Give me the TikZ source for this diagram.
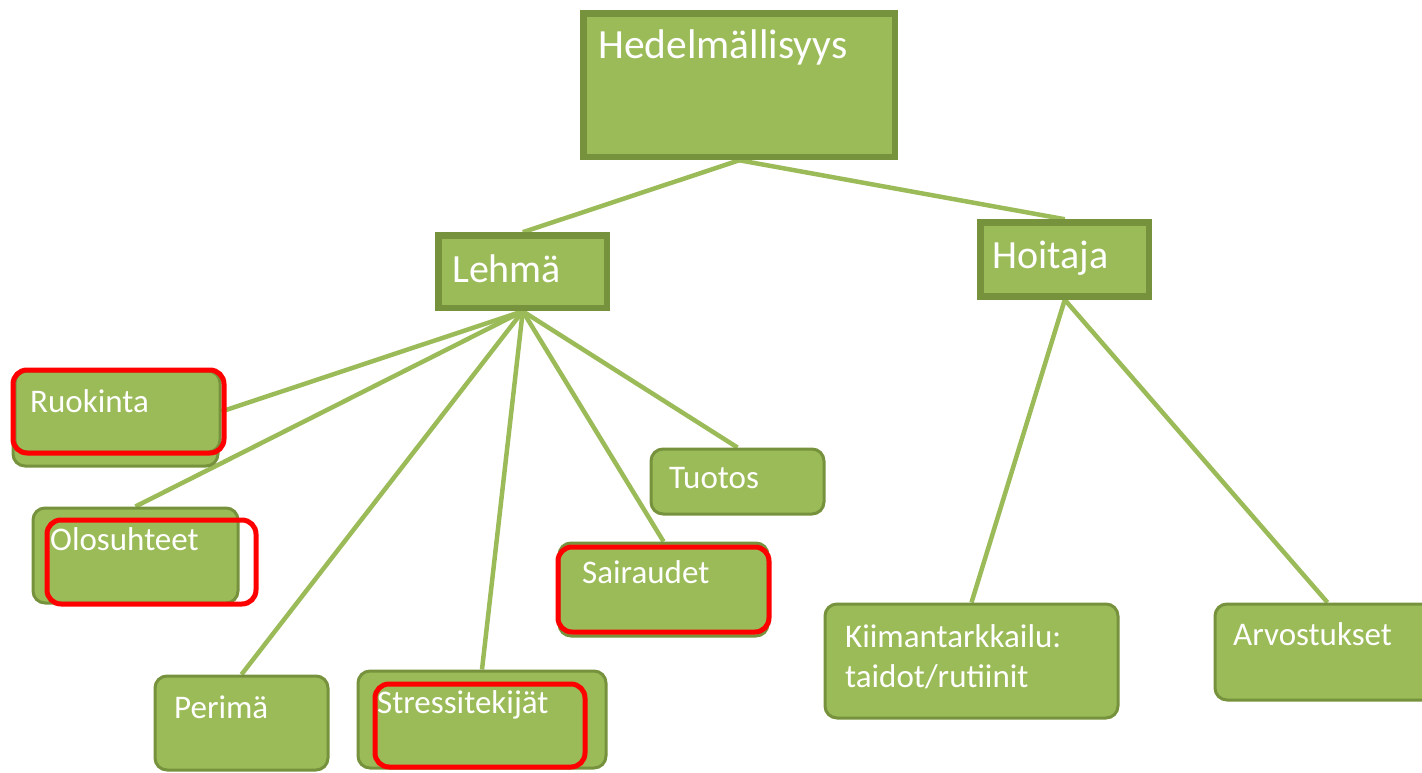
\documentclass[tikz,border=0pt]{standalone}
\usepackage{fontspec}
\setmainfont{Carlito}
\usetikzlibrary{backgrounds}
\definecolor{gfill}{HTML}{9BBB59}
\definecolor{gdark}{HTML}{76923C}
\definecolor{gline}{HTML}{9BBB59}
\tikzset{
 sqbox/.style={draw=gdark, fill=gfill, line width=6.5pt, anchor=north west, inner sep=0pt},
 rbox/.style={draw=gdark, fill=gfill, line width=3pt, rounded corners=12pt, anchor=north west, inner sep=0pt},
 redbox/.style={draw=red, line width=5pt, rounded corners=14pt, anchor=north west, inner sep=0pt},
 lbl/.style={text=white, anchor=base west, inner sep=0pt, align=left},
 bigf/.style={font=\fontsize{41.5}{49}\selectfont},
 midf/.style={font=\fontsize{40}{48}\selectfont},
 smallf/.style={font=\fontsize{33}{39.5}\selectfont},
 conn/.style={draw=gline, line width=4.5pt},
}
\begin{document}
\begin{tikzpicture}[x=1pt,y=-1pt]
\useasboundingbox (0,0) rectangle (1422,772);
% top level
\node[sqbox, minimum width=311.5pt, minimum height=143.5pt] (hed) at (580.25,10.25) {};
\node[lbl, bigf] (hedt) at (598,58) {Hedelmällisyys};
\node[sqbox, minimum width=168.5pt, minimum height=72.5pt] (leh) at (435.25,232.25) {};
\node[lbl, midf] (leht) at (452,282) {Lehmä};
\node[sqbox, minimum width=168.5pt, minimum height=74pt] (hoi) at (977.25,219.25) {};
\node[lbl, midf] (hoit) at (992,268) {Hoitaja};
% leaves
\node[rbox, minimum width=205pt, minimum height=85pt] (ruokb) at (11.5,379.5) {};
\node[rbox, minimum width=205pt, minimum height=81pt] (ruok) at (13.5,369.5) {};
\node[lbl, smallf] (ruokt) at (30,412) {Ruokinta};
\node[redbox, minimum width=211pt, minimum height=83pt] (ruokr) at (10.5,367.5) {};

\node[rbox, minimum width=205pt, minimum height=95pt] (olo) at (31.5,506.5) {};
\node[lbl, smallf] (olot) at (50,550) {Olosuhteet};
\node[redbox, minimum width=209pt, minimum height=84pt] (olor) at (44.5,517.5) {};

\node[rbox, minimum width=173pt, minimum height=94pt] (per) at (153.5,674.5) {};
\node[lbl, smallf] (pert) at (174,718) {Perimä};

\node[rbox, minimum width=248pt, minimum height=97pt] (str) at (356.5,669.5) {};
\node[lbl, smallf] (strt) at (377,713) {Stressitekijät};
\node[redbox, minimum width=210pt, minimum height=83pt] (strr) at (372.5,681.5) {};

\node[rbox, minimum width=209pt, minimum height=93pt] (sai) at (557.5,541.5) {};
\node[lbl, smallf] (sait) at (582,583) {Sairaudet};
\node[redbox, minimum width=211pt, minimum height=85pt] (sair) at (555.5,544.5) {};

\node[rbox, minimum width=173pt, minimum height=65pt] (tuo) at (649.5,447.5) {};
\node[lbl, smallf] (tuot) at (669,488) {Tuotos};

\node[rbox, minimum width=293pt, minimum height=114pt] (kii) at (823.5,602.5) {};
\node[lbl, smallf] (kiit) at (845,687) {Kiimantarkkailu:\\taidot/rutiinit};

\node[rbox, minimum width=225pt, minimum height=96pt] (arv) at (1213.5,602.5) {};
\node[lbl, smallf] (arvt) at (1233,645) {Arvostukset};
% connectors
\begin{pgfonlayer}{background}
\draw[conn] (hed.south) -- (leh.north);
\draw[conn] (hed.south) -- (hoi.north);
\draw[conn] (leh.south) -- (ruok.east);
\draw[conn] (leh.south) -- (olo.north);
\draw[conn] (leh.south) -- (per.north);
\draw[conn] (leh.south) -- (str.north);
\draw[conn] (leh.south) -- (sai.north);
\draw[conn] (leh.south) -- (tuo.north);
\draw[conn] (hoi.south) -- (kii.north);
\draw[conn] (hoi.south) -- (arv.north);
\end{pgfonlayer}
\end{tikzpicture}
\end{document}
